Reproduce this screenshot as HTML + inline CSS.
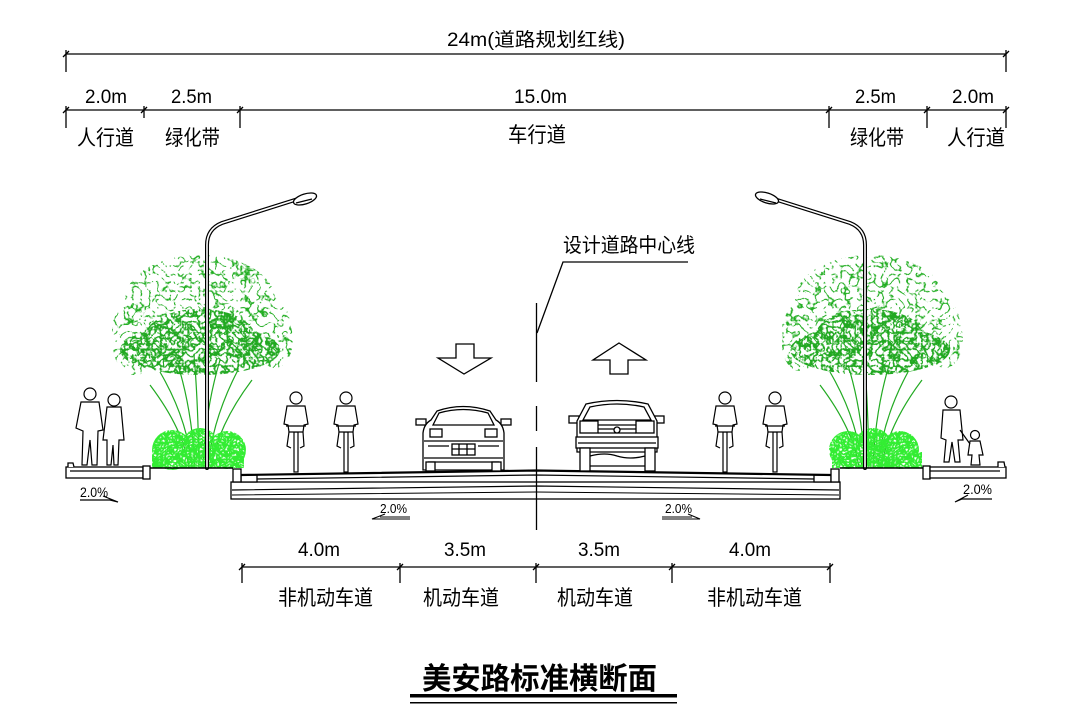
<!DOCTYPE html>
<html><head><meta charset="utf-8"><style>
html,body{margin:0;padding:0;background:#fff;}
svg{display:block;}
text{font-family:"Liberation Sans","Noto Sans CJK SC",sans-serif;fill:#000;}
</style></head><body>
<svg width="1080" height="719" viewBox="0 0 1080 719" xmlns="http://www.w3.org/2000/svg">
<defs>
<filter id="leaf" x="-5%" y="-5%" width="110%" height="110%" color-interpolation-filters="sRGB">
<feTurbulence type="turbulence" baseFrequency="0.12" numOctaves="2" seed="7" result="t"/>
<feColorMatrix in="t" type="matrix" values="0 0 0 0 0.13 0 0 0 0 0.68 0 0 0 0 0.13 -9 0 0 0 1.5" result="c"/>
<feComposite in="c" in2="SourceAlpha" operator="in"/>
</filter>
<filter id="leaf2" x="-5%" y="-5%" width="110%" height="110%" color-interpolation-filters="sRGB">
<feTurbulence type="turbulence" baseFrequency="0.18" numOctaves="2" seed="3" result="t"/>
<feColorMatrix in="t" type="matrix" values="0 0 0 0 0.13 0 0 0 0 0.66 0 0 0 0 0.13 -6 0 0 0 1.9" result="c"/>
<feComposite in="c" in2="SourceAlpha" operator="in"/>
</filter>
<filter id="shrub" x="-5%" y="-5%" width="110%" height="110%" color-interpolation-filters="sRGB">
<feTurbulence type="turbulence" baseFrequency="0.35" numOctaves="2" seed="11" result="t"/>
<feColorMatrix in="t" type="matrix" values="0 0 0 0 0.2 0 0 0 0 0.93 0 0 0 0 0.2 -4 0 0 0 2.3" result="c"/>
<feComposite in="c" in2="SourceAlpha" operator="in"/>
</filter>
</defs>

<!-- ============ TOP DIMENSIONS ============ -->
<g stroke="#000" stroke-width="1.3" fill="none">
<line x1="66" y1="54" x2="1006" y2="54"/>
<line x1="66" y1="50" x2="66" y2="72"/>
<line x1="1006" y1="50" x2="1006" y2="72"/>
<line x1="63" y1="57" x2="69" y2="51"/>
<line x1="1003" y1="57" x2="1009" y2="51"/>

<line x1="66" y1="110" x2="1006" y2="110"/>
<line x1="66" y1="106" x2="66" y2="128"/>
<line x1="144" y1="106" x2="144" y2="118"/>
<line x1="240" y1="106" x2="240" y2="128"/>
<line x1="829" y1="106" x2="829" y2="128"/>
<line x1="927" y1="106" x2="927" y2="128"/>
<line x1="1006" y1="106" x2="1006" y2="128"/>
<line x1="63" y1="113" x2="69" y2="107"/>
<line x1="141" y1="113" x2="147" y2="107"/>
<line x1="237" y1="113" x2="243" y2="107"/>
<line x1="826" y1="113" x2="832" y2="107"/>
<line x1="924" y1="113" x2="930" y2="107"/>
<line x1="1003" y1="113" x2="1009" y2="107"/>
</g>
<text x="447" y="46" font-size="19" textLength="178" lengthAdjust="spacingAndGlyphs">24m(道路规划红线)</text>

<text x="85" y="103" font-size="19" textLength="42" lengthAdjust="spacingAndGlyphs">2.0m</text>
<text x="171" y="103" font-size="19" textLength="41" lengthAdjust="spacingAndGlyphs">2.5m</text>
<text x="514" y="103" font-size="19" textLength="53" lengthAdjust="spacingAndGlyphs">15.0m</text>
<text x="855" y="103" font-size="19" textLength="41" lengthAdjust="spacingAndGlyphs">2.5m</text>
<text x="952" y="103" font-size="19" textLength="42" lengthAdjust="spacingAndGlyphs">2.0m</text>

<text x="77" y="145" font-size="21" textLength="57" lengthAdjust="spacingAndGlyphs">人行道</text>
<text x="165" y="145" font-size="21" textLength="55" lengthAdjust="spacingAndGlyphs">绿化带</text>
<text x="508" y="142" font-size="21" textLength="58" lengthAdjust="spacingAndGlyphs">车行道</text>
<text x="850" y="145" font-size="21" textLength="54" lengthAdjust="spacingAndGlyphs">绿化带</text>
<text x="947" y="145" font-size="21" textLength="58" lengthAdjust="spacingAndGlyphs">人行道</text>

<!-- ============ TREES ============ -->
<g stroke="#22aa22" stroke-width="1.2" fill="none">
<path d="M192,468 Q188,420 160,372"/>
<path d="M195,468 Q192,410 178,365"/>
<path d="M199,468 Q198,400 194,355"/>
<path d="M203,468 Q205,410 220,360"/>
<path d="M208,468 Q212,420 238,370"/>
<path d="M189,468 Q184,430 150,385"/>
<path d="M211,468 Q218,425 252,380"/>
</g>
<g filter="url(#leaf)" fill="#000">
<ellipse cx="200" cy="300" rx="75" ry="45"/>
<ellipse cx="150" cy="330" rx="38" ry="35"/>
<ellipse cx="255" cy="325" rx="35" ry="35"/>
<ellipse cx="135" cy="345" rx="22" ry="30"/>
<ellipse cx="275" cy="340" rx="18" ry="28"/>
</g>
<g filter="url(#leaf2)" fill="#000">
<ellipse cx="200" cy="350" rx="80" ry="25"/>
<ellipse cx="200" cy="337" rx="55" ry="28"/>
</g>
<g filter="url(#shrub)" fill="#000">
<circle cx="172" cy="450" r="20"/>
<circle cx="200" cy="447" r="19"/>
<circle cx="227" cy="450" r="19"/>
<rect x="152" y="452" width="92" height="16"/>
</g>

<g stroke="#22aa22" stroke-width="1.2" fill="none">
<path d="M862,468 Q858,420 830,372"/>
<path d="M865,468 Q862,410 848,365"/>
<path d="M869,468 Q868,400 864,355"/>
<path d="M873,468 Q875,410 890,362"/>
<path d="M878,468 Q882,420 908,372"/>
<path d="M859,468 Q854,430 820,385"/>
<path d="M881,468 Q888,425 922,380"/>
</g>
<g filter="url(#leaf)" fill="#000">
<ellipse cx="870" cy="300" rx="75" ry="45"/>
<ellipse cx="820" cy="330" rx="38" ry="35"/>
<ellipse cx="925" cy="325" rx="35" ry="35"/>
<ellipse cx="800" cy="345" rx="18" ry="26"/>
<ellipse cx="945" cy="340" rx="18" ry="28"/>
</g>
<g filter="url(#leaf2)" fill="#000">
<ellipse cx="870" cy="350" rx="80" ry="25"/>
<ellipse cx="870" cy="337" rx="55" ry="28"/>
</g>
<g filter="url(#shrub)" fill="#000">
<circle cx="848" cy="450" r="19"/>
<circle cx="873" cy="447" r="19"/>
<circle cx="900" cy="450" r="19"/>
<rect x="832" y="452" width="90" height="16"/>
</g>

<!-- ============ LAMPS ============ -->
<g fill="none" stroke-linecap="round">
<path d="M207,468 L207,245 Q207,229 222,223 L298,199" stroke="#000" stroke-width="4"/>
<path d="M207,468 L207,245 Q207,229 222,223 L298,199" stroke="#fff" stroke-width="1.6"/>
<path d="M865,468 L865,245 Q865,229 850,223 L774,199" stroke="#000" stroke-width="4"/>
<path d="M865,468 L865,245 Q865,229 850,223 L774,199" stroke="#fff" stroke-width="1.6"/>
</g>
<g fill="#fff" stroke="#000" stroke-width="1.3">
<ellipse cx="305" cy="199" rx="12" ry="5" transform="rotate(-18 305 199)"/>
<line x1="296" y1="203" x2="312" y2="199"/>
<ellipse cx="767" cy="198" rx="12" ry="5" transform="rotate(18 767 198)"/>
<line x1="760" y1="199" x2="776" y2="203"/>
</g>

<!-- ============ ROAD ============ -->
<g stroke="#000" stroke-width="1.3" fill="#fff">
<rect x="66" y="467" width="77" height="11"/>
<line x1="70" y1="471" x2="143" y2="471"/>
<path d="M68,467 L68,463 L73,463 L74,467"/>
<rect x="143" y="466" width="7" height="13"/>
<line x1="150" y1="468" x2="233" y2="468" stroke-width="1.6"/>
<rect x="231" y="482" width="609" height="17"/>
<rect x="241" y="475" width="16" height="7"/>
<rect x="814" y="475" width="17" height="7"/>
<rect x="233" y="469" width="8" height="13"/>
<rect x="831" y="469" width="8" height="13"/>
<line x1="840" y1="468" x2="923" y2="468" stroke-width="1.6"/>
<rect x="923" y="466" width="7" height="13"/>
<rect x="930" y="467" width="76" height="11"/>
<line x1="930" y1="471" x2="1000" y2="471"/>
<path d="M998,467 L998,462 L1004,462 L1005,467"/>
</g>
<g stroke="#000" fill="none">
<path d="M241,475 L536,470.5 L831,475" stroke-width="2.2"/>
<path d="M257,479 L536,475 L814,479" stroke-width="1.2"/>
<path d="M232,490 L536,486 L839,490" stroke-width="1.2"/>
<path d="M232,495 L536,492 L839,495" stroke-width="1"/>
</g>

<text x="80" y="497" font-size="14" textLength="28" lengthAdjust="spacingAndGlyphs">2.0%</text>
<path d="M80,500 L110,500 M103,496 L118,502 L110,500" stroke="#000" stroke-width="1.2" fill="none"/>
<text x="963" y="494" font-size="14" textLength="29" lengthAdjust="spacingAndGlyphs">2.0%</text>
<path d="M992,499 L962,499 M968,495 L955,502 L962,499" stroke="#000" stroke-width="1.2" fill="none"/>
<text x="380" y="513" font-size="13" textLength="27" lengthAdjust="spacingAndGlyphs">2.0%</text>
<path d="M410,517 L380,517 M385,514 L372,519 L410,519" stroke="#000" stroke-width="1.1" fill="none"/>
<text x="665" y="513" font-size="13" textLength="27" lengthAdjust="spacingAndGlyphs">2.0%</text>
<path d="M662,517 L692,517 M688,514 L700,519 L662,519" stroke="#000" stroke-width="1.1" fill="none"/>

<!-- ============ CENTERLINE ============ -->
<g stroke="#000" stroke-width="1.3" fill="none">
<line x1="536.5" y1="303" x2="536.5" y2="382"/>
<line x1="536.5" y1="406" x2="536.5" y2="431"/>
<line x1="536.5" y1="447" x2="536.5" y2="530"/>
<path d="M537,333 L563,262 L688,262"/>
</g>
<text x="563" y="252" font-size="20" textLength="132" lengthAdjust="spacingAndGlyphs">设计道路中心线</text>

<g fill="#fff" stroke="#000" stroke-width="1.3">
<polygon points="456,344 474,344 474,358 491,358 464,374 438,358 456,358"/>
<polygon points="619,343 646,360 628,360 628,374 610,374 610,360 593,360"/>
</g>

<!-- ============ CARS ============ -->
<g fill="#fff" stroke="#000" stroke-width="1.3">
<rect x="416" y="419" width="10" height="6"/>
<rect x="501" y="419" width="10" height="6"/>
<path d="M423,470 V433 Q424,424 431,420 L437,411 Q463,402 490,411 L496,420 Q503,424 504,433 V470 Z"/>
<path d="M433,425 L439,413 Q463,406 488,413 L494,425 Z"/>
<rect x="430" y="429" width="12" height="8"/>
<rect x="485" y="429" width="12" height="8"/>
<line x1="424" y1="441" x2="503" y2="441"/>
<rect x="452" y="444" width="23" height="11"/>
<line x1="452" y1="449" x2="475" y2="449"/>
<line x1="459" y1="444" x2="459" y2="455"/>
<line x1="467" y1="444" x2="467" y2="455"/>
<line x1="428" y1="446" x2="449" y2="446"/>
<line x1="478" y1="446" x2="499" y2="446"/>
<line x1="424" y1="458" x2="503" y2="458"/>
<line x1="428" y1="462" x2="499" y2="462"/>
<rect x="426" y="462" width="9" height="9"/>
<rect x="492" y="462" width="9" height="9"/>
<rect x="569" y="416" width="10" height="7"/>
<rect x="654" y="416" width="10" height="7"/>
<path d="M577,452 V421 L586,404 Q617,397 648,404 L657,421 V452 Z"/>
<path d="M583,420 L590,407 Q617,401 644,407 L651,420 Z"/>
<rect x="580" y="421" width="18" height="12"/>
<rect x="636" y="421" width="18" height="12"/>
<line x1="598" y1="425" x2="636" y2="425"/>
<line x1="598" y1="429" x2="636" y2="429"/>
<line x1="598" y1="433" x2="636" y2="433"/>
<circle cx="617" cy="430" r="3"/>
<rect x="576" y="437" width="82" height="11"/>
<line x1="578" y1="443" x2="656" y2="443"/>
<rect x="580" y="448" width="10" height="23"/>
<rect x="645" y="448" width="10" height="23"/>
<path d="M590,456 Q605,452 617,456 Q630,460 645,456"/>
<line x1="590" y1="466" x2="645" y2="466"/>
</g>

<!-- ============ CYCLISTS ============ -->
<g fill="#fff" stroke="#000" stroke-width="1.2">
<g id="cy1">
<rect x="294" y="432" width="4" height="40"/>
<circle cx="296" cy="398" r="6"/>
<path d="M287,406 L305,406 L308,424 L304,425 L303,432 L289,432 L288,425 L284,424 Z"/>
<line x1="286" y1="426" x2="306" y2="426"/>
<path d="M289,432 L287,446 L291,448 M303,432 L304,446 L300,448"/>
</g>
<use href="#cy1" x="50"/>
<use href="#cy1" x="429"/>
<use href="#cy1" x="479"/>
</g>

<!-- ============ PEDESTRIANS ============ -->
<g fill="#fff" stroke="#000" stroke-width="1.2">
<circle cx="90" cy="394" r="6"/>
<path d="M81,402 L99,402 L103,430 L98,431 L97,465 L92,465 L90,440 L87,465 L82,465 L83,431 L76,428 Z"/>
<circle cx="114" cy="400" r="6"/>
<path d="M107,407 L121,407 L124,440 L119,440 L118,465 L114,465 L113,445 L111,465 L107,465 L107,440 L103,440 Z"/>
<circle cx="951" cy="402" r="6"/>
<path d="M943,410 L960,410 L963,440 L958,440 L960,462 L955,462 L952,442 L949,462 L944,462 L946,440 L941,438 Z"/>
<circle cx="975" cy="435" r="4.5"/>
<path d="M970,441 L980,441 L983,455 L979,455 L980,465 L971,465 L972,455 L968,455 Z"/>
<line x1="960" y1="430" x2="970" y2="444"/>
</g>

<!-- ============ BOTTOM DIMENSIONS ============ -->
<g stroke="#000" stroke-width="1.3" fill="none">
<line x1="242" y1="567" x2="830" y2="567"/>
<line x1="242" y1="563" x2="242" y2="583"/>
<line x1="400" y1="563" x2="400" y2="583"/>
<line x1="536" y1="563" x2="536" y2="583"/>
<line x1="672" y1="563" x2="672" y2="583"/>
<line x1="830" y1="563" x2="830" y2="583"/>
<line x1="239" y1="570" x2="245" y2="564"/>
<line x1="397" y1="570" x2="403" y2="564"/>
<line x1="533" y1="570" x2="539" y2="564"/>
<line x1="669" y1="570" x2="675" y2="564"/>
<line x1="827" y1="570" x2="833" y2="564"/>
</g>
<text x="298" y="556" font-size="19" textLength="42" lengthAdjust="spacingAndGlyphs">4.0m</text>
<text x="444" y="556" font-size="19" textLength="42" lengthAdjust="spacingAndGlyphs">3.5m</text>
<text x="578" y="556" font-size="19" textLength="42" lengthAdjust="spacingAndGlyphs">3.5m</text>
<text x="729" y="556" font-size="19" textLength="42" lengthAdjust="spacingAndGlyphs">4.0m</text>

<text x="278" y="605" font-size="21" textLength="95" lengthAdjust="spacingAndGlyphs">非机动车道</text>
<text x="423" y="605" font-size="21" textLength="76" lengthAdjust="spacingAndGlyphs">机动车道</text>
<text x="557" y="605" font-size="21" textLength="76" lengthAdjust="spacingAndGlyphs">机动车道</text>
<text x="707" y="605" font-size="21" textLength="95" lengthAdjust="spacingAndGlyphs">非机动车道</text>

<!-- ============ TITLE ============ -->
<text x="422" y="689" font-size="30" font-weight="bold" textLength="235" lengthAdjust="spacingAndGlyphs">美安路标准横断面</text>
<rect x="410" y="694" width="267" height="3.5" fill="#000"/>
<rect x="410" y="702" width="267" height="1.5" fill="#000"/>
</svg>
</body></html>
